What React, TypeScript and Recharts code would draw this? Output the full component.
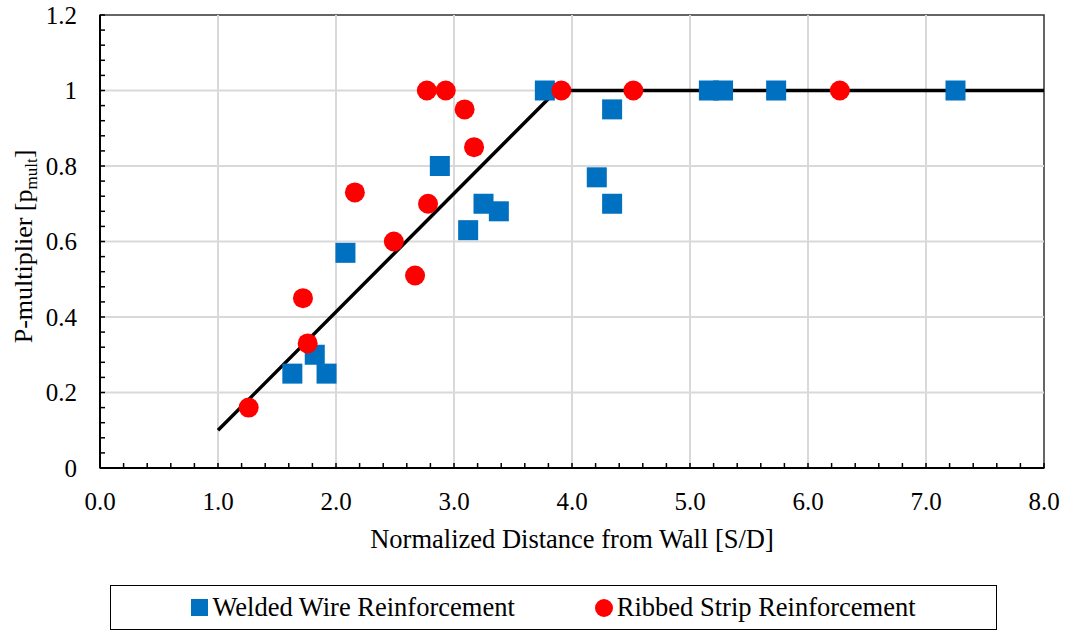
import React from 'react';
import {
  ScatterChart,
  Scatter,
  XAxis,
  YAxis,
  ReferenceLine,
  ReferenceArea,
  Legend
} from 'recharts';

const FONT = '"Liberation Serif", "Times New Roman", serif';

// Welded wire reinforcement (blue squares)
const weldedX = [1.63, 1.82, 1.92, 2.08, 2.88, 3.12, 3.25, 3.38, 3.77, 4.21, 4.34, 4.34, 5.16, 5.28, 5.73, 7.25];
const weldedY = [0.25, 0.3, 0.25, 0.57, 0.8, 0.63, 0.7, 0.68, 1.0, 0.77, 0.95, 0.7, 1.0, 1.0, 1.0, 1.0];

// Ribbed strip reinforcement (red circles)
const ribbedX = [1.26, 1.72, 1.76, 2.16, 2.49, 2.67, 2.78, 2.77, 2.93, 3.09, 3.17, 3.91, 4.52, 6.27];
const ribbedY = [0.16, 0.45, 0.33, 0.73, 0.6, 0.51, 0.7, 1.0, 1.0, 0.95, 0.85, 1.0, 1.0, 1.0];

// design line
const trendX = [1.0, 3.87, 8.0];
const trendY = [0.1, 1.0, 1.0];

const xMajor = [0, 1, 2, 3, 4, 5, 6, 7, 8];
const yMajor = [0, 0.2, 0.4, 0.6, 0.8, 1.0, 1.2];

// minor tick marks (x every 0.2, y every 0.04)
const xTicks = Array.from({ length: 41 }, (_, i) => +(i * 0.2).toFixed(2));
const yTicks = Array.from({ length: 31 }, (_, i) => +(i * 0.04).toFixed(2));

const zip = (xs: number[], ys: number[]) => xs.map((x, i) => ({ x, y: ys[i] }));
const welded = zip(weldedX, weldedY);
const ribbed = zip(ribbedX, ribbedY);
const trend = zip(trendX, trendY);

const isMajor = (v: number, step: number) => Math.abs(v / step - Math.round(v / step)) < 1e-6;

const XTick = ({ x, y, payload }: any) => {
  const v = payload.value;
  return (
    <g>
      <line x1={x} x2={x} y1={y} y2={y - 5} stroke="#000" strokeWidth={1.5} />
      {isMajor(v, 1) && (
        <text x={x} y={y + 42} textAnchor="middle" fontFamily={FONT} fontSize={25} fill="#000">
          {v.toFixed(1)}
        </text>
      )}
    </g>
  );
};

const YTick = ({ x, y, payload }: any) => {
  const v = payload.value;
  return (
    <g>
      <line x1={x} x2={x + 5} y1={y} y2={y} stroke="#000" strokeWidth={1.5} />
      {isMajor(v, 0.2) && (
        <text x={x - 23} y={y + 8.5} textAnchor="end" fontFamily={FONT} fontSize={25} fill="#000">
          {String(Number(v.toFixed(1)))}
        </text>
      )}
    </g>
  );
};

const Square = ({ cx, cy }: any) => (
  <rect x={cx - 10} y={cy - 10} width={20} height={20} fill="#0070C0" />
);

const Dot = ({ cx, cy }: any) => <circle cx={cx} cy={cy} r={10} fill="#FF0000" />;

const NoShape = () => <g />;

const renderLegend = () => (
  <div
    style={{
      boxSizing: 'border-box',
      height: 45,
      border: '1.5px solid #000',
      display: 'flex',
      alignItems: 'center',
      justifyContent: 'center',
      gap: 80,
      fontFamily: FONT,
      fontSize: 26.5,
      color: '#000',
      background: '#fff'
    }}
  >
    <span style={{ display: 'flex', alignItems: 'center' }}>
      <span style={{ width: 17, height: 17, background: '#0070C0', marginRight: 4 }} />
      Welded Wire Reinforcement
    </span>
    <span style={{ display: 'flex', alignItems: 'center' }}>
      <span style={{ width: 18, height: 18, borderRadius: 9, background: '#FF0000', marginRight: 4 }} />
      Ribbed Strip Reinforcement
    </span>
  </div>
);

const App: React.FC = () => {
  return (
    <div style={{ position: 'absolute', left: 0, top: 0, background: '#fff', fontFamily: FONT }}>
      <ScatterChart width={1066} height={630} margin={{ top: 15, right: 22, left: 0, bottom: 0 }}>
        <XAxis
          type="number"
          dataKey="x"
          domain={[0, 8]}
          ticks={xTicks}
          interval={0}
          tickSize={0}
          tickMargin={0}
          tick={<XTick />}
          height={117}
          axisLine={false}
          allowDataOverflow
          label={{
            content: ({ viewBox }: any) => (
              <text
                x={viewBox.x + viewBox.width / 2}
                y={viewBox.y + 80}
                textAnchor="middle"
                fontFamily={FONT}
                fontSize={26.5}
                fill="#000"
              >
                Normalized Distance from Wall [S/D]
              </text>
            )
          }}
        />
        <YAxis
          type="number"
          dataKey="y"
          domain={[0, 1.2]}
          ticks={yTicks}
          interval={0}
          tickSize={0}
          tickMargin={0}
          tick={<YTick />}
          width={100}
          axisLine={false}
          allowDataOverflow
          label={{
            content: ({ viewBox }: any) => {
              const cy = viewBox.y + viewBox.height / 2 + 5;
              return (
                <text
                  x={32}
                  y={cy}
                  transform={`rotate(-90, 32, ${cy})`}
                  textAnchor="middle"
                  fontFamily={FONT}
                  fontSize={26}
                  fill="#000"
                >
                  P-multiplier [p
                  <tspan fontSize={17} dy={5}>mult</tspan>
                  <tspan dy={-5}>]</tspan>
                </text>
              );
            }
          }}
        />
        {xMajor.slice(1, -1).map((v) => (
          <ReferenceLine key={'gx' + v} x={v} stroke="#d9d9d9" strokeWidth={2} />
        ))}
        {yMajor.slice(1, -1).map((v) => (
          <ReferenceLine key={'gy' + v} y={v} stroke="#d9d9d9" strokeWidth={2} />
        ))}
        <ReferenceArea x1={0} x2={8} y1={0} y2={1.2} fill="none" stroke="#333" strokeWidth={1.5} />
        <ReferenceLine x={0} stroke="#000" strokeWidth={2} />
        <ReferenceLine y={0} stroke="#000" strokeWidth={2} />
        <Legend verticalAlign="bottom" content={renderLegend} wrapperStyle={{ left: 110, width: 887, bottom: 0 }} />
        <Scatter
          name="Trend"
          data={trend}
          line={{ stroke: '#000', strokeWidth: 3.5 }}
          shape={<NoShape />}
          legendType="none"
          isAnimationActive={false}
        />
        <Scatter name="Welded Wire Reinforcement" data={welded} shape={<Square />} isAnimationActive={false} />
        <Scatter name="Ribbed Strip Reinforcement" data={ribbed} shape={<Dot />} isAnimationActive={false} />
      </ScatterChart>
    </div>
  );
};

export default App;
